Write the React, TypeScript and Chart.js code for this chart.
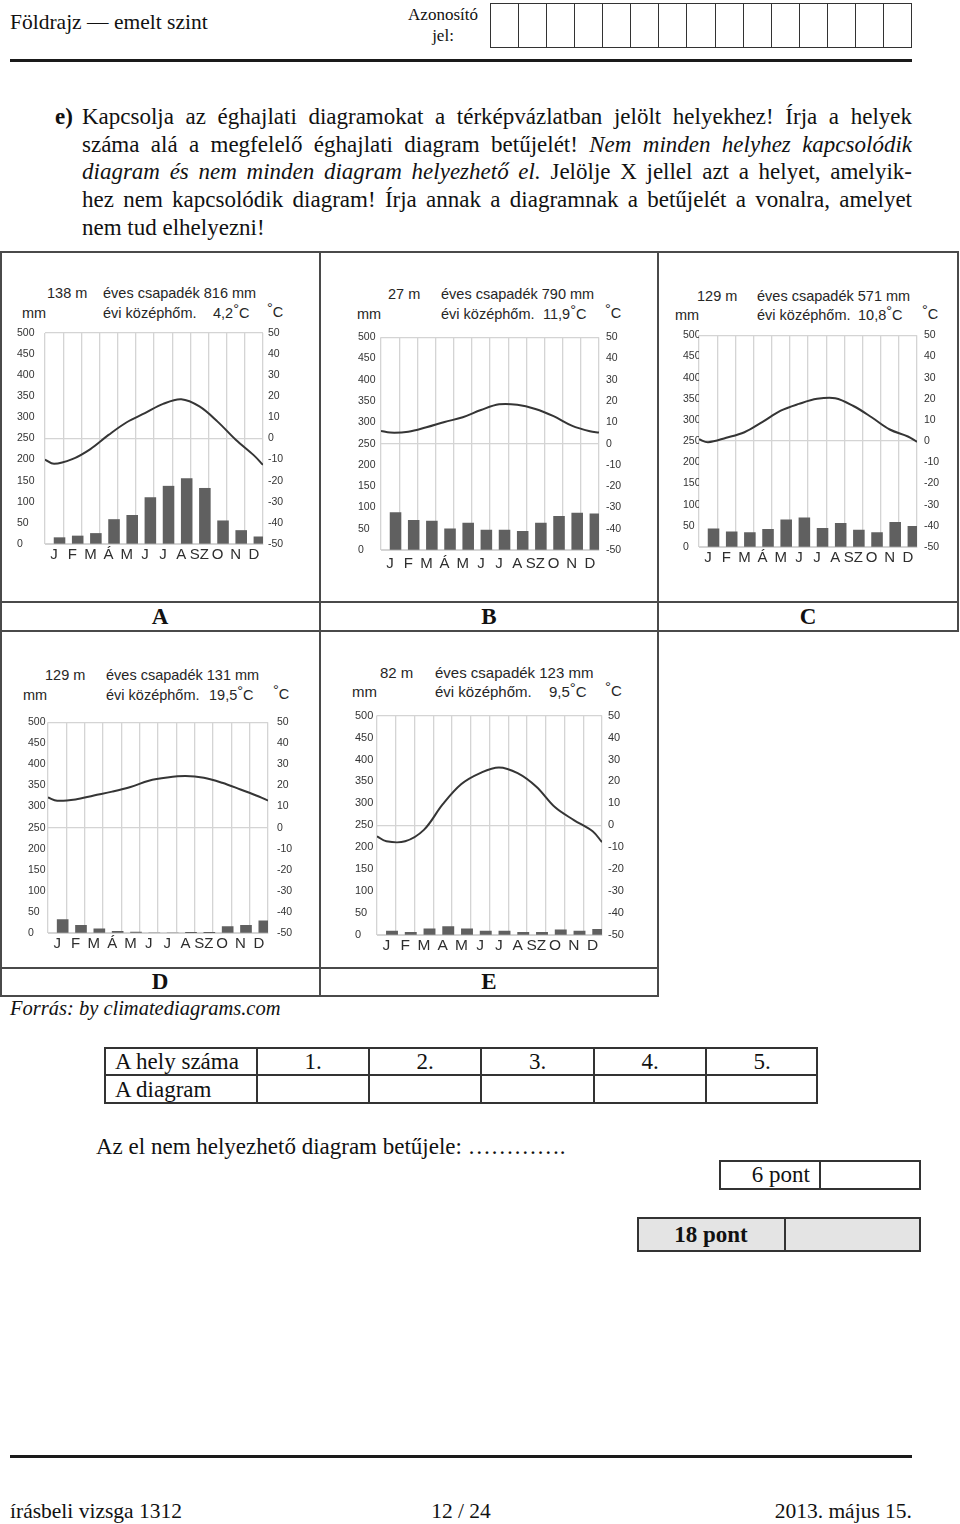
import React, { useEffect, useRef } from "react";
import { Chart, registerables } from "chart.js";
Chart.register(...registerables);

// ---------- data ----------
const monthsHU = ["J", "F", "M", "Á", "M", "J", "J", "A", "SZ", "O", "N", "D"];
const monthsE = ["J", "F", "M", "A", "M", "J", "J", "A", "SZ", "O", "N", "D"];

const precipA = [15, 19, 25, 58, 68, 110, 137, 155, 132, 55, 32, 17];
const tempA = [-12, -9.8, -5, 1.7, 7.7, 12, 16.4, 18.6, 15.2, 8, -0.6, -8];
const tempEdgeA = [-10, -12.5];

const precipB = [88, 70, 68, 50, 63, 47, 47, 44, 63, 79, 87, 85];
const tempB = [5.2, 5.6, 7.7, 10.2, 12.4, 15.8, 18.5, 18.3, 16.3, 12.9, 8.5, 5.8];
const tempEdgeB = [6, 5.2];

const precipC = [43, 36, 34, 42, 64, 69, 44, 56, 40, 34, 58, 49];
const tempC = [-0.5, 1.6, 4.2, 9.1, 14.4, 17.6, 20, 20.3, 16.6, 11.3, 5.5, 2.2];
const tempEdgeC = [0.9, -0.3];

const precipD = [32, 18, 10, 4, 2, 0, 0, 1, 1, 15, 18, 29];
const tempD = [12.8, 13.4, 15.3, 17.1, 19.3, 22.3, 23.8, 24.5, 23.7, 21.3, 18.1, 14.8];
const tempEdgeD = [14.3, 12.8];

const precipE = [9, 6, 14, 19, 14, 9, 9, 6, 6, 12, 9, 13];
const tempE = [-7.3, -7.3, -2.1, 9.5, 18.8, 23.8, 26.4, 23.8, 17.6, 8.2, 2.4, -2.7];
const tempEdgeE = [-5, -7.7];

const answerCols = ["1.", "2.", "3.", "4.", "5."];

// ---------- helpers ----------
const SERIF = "'Liberation Serif', 'Times New Roman', serif";
const SANS = "'Liberation Sans', Arial, sans-serif";

type Geo = {
  labelX: number; plotL: number; plotR: number; plotT: number; plotB: number;
  cellR: number; rpad: number; xpad: number; tick: number; month: number;
};

function ClimateChart(props: {
  g: Geo; labels: string[]; precip: number[]; temp: number[]; edges: number[];
}) {
  const { g, labels, precip, temp, edges } = props;
  const ref = useRef<HTMLCanvasElement>(null);
  const top = g.plotT - 12;
  const xh = 32;
  const cw = g.cellR - g.labelX;
  const ch = g.plotB + xh - top;
  useEffect(() => {
    const lineData = [
      { x: 0, y: edges[0] },
      ...temp.map((t, i) => ({ x: i + 0.5, y: t })),
      { x: 12, y: edges[1] },
    ];
    const grid = "#d4d4d4";
    const barW = ((g.plotR - g.plotL) / 12) * 0.6;
    const chart = new Chart(ref.current as HTMLCanvasElement, {
      type: "bar",
      data: {
        labels,
        datasets: [
          {
            type: "line",
            data: lineData as any,
            borderColor: "#353535",
            borderWidth: 2,
            pointRadius: 0,
            tension: 0.35,
            xAxisID: "xl",
            yAxisID: "yt",
            order: 1,
          } as any,
          {
            type: "bar",
            data: precip,
            backgroundColor: "#606060",
            barThickness: barW,
            xAxisID: "x",
            yAxisID: "y",
            order: 2,
          } as any,
        ],
      },
      options: {
        animation: false,
        responsive: false,
        devicePixelRatio: 1,
        layout: { padding: { top: 12, left: 0, right: 0, bottom: 0 } },
        plugins: { legend: { display: false }, tooltip: { enabled: false } },
        scales: {
          x: {
            type: "category",
            offset: true,
            grid: { offset: true, color: grid, drawTicks: false, lineWidth: 1.3 },
            border: { display: true, color: grid },
            ticks: {
              color: "#2e2e2e",
              font: { family: SANS, size: g.month },
              padding: g.xpad,
              maxRotation: 0,
              autoSkip: false,
            },
            afterFit: (s: any) => { s.height = xh; },
          },
          xl: {
            type: "linear",
            min: 0,
            max: 12,
            offset: false,
            display: false,
            grid: { display: false, offset: false },
          },
          y: {
            position: "left",
            min: 0,
            max: 500,
            ticks: {
              stepSize: 50,
              color: "#333",
              font: { family: SANS, size: g.tick },
              crossAlign: "far",
              padding: 4,
            },
            grid: {
              drawTicks: false,
              lineWidth: 1.3,
              color: (c: any) =>
                c.tick && [0, 250, 500].includes(c.tick.value) ? grid : "rgba(0,0,0,0)",
            },
            border: { display: false },
            afterFit: (s: any) => { s.width = g.plotL - g.labelX; },
          },
          yt: {
            position: "right",
            min: -50,
            max: 50,
            ticks: {
              stepSize: 10,
              color: "#333",
              font: { family: SANS, size: g.tick },
              padding: g.rpad,
            },
            grid: { display: false, drawTicks: false },
            border: { display: false },
            afterFit: (s: any) => { s.width = g.cellR - g.plotR; },
          },
        },
      } as any,
    });
    return () => chart.destroy();
  }, []);
  return (
    <canvas
      ref={ref}
      width={cw}
      height={ch}
      style={{ position: "absolute", left: g.labelX, top, width: cw, height: ch }}
    />
  );
}

function T(props: {
  x: number; y: number; size: number; children: any; style?: any; align?: "left" | "center" | "right";
}) {
  const { x, y, size, children, style, align } = props;
  const tx = align === "center" ? "-50%" : align === "right" ? "-100%" : "0";
  return (
    <div
      style={{
        position: "absolute",
        left: x,
        top: y,
        transform: `translate(${tx}, -50%)`,
        fontSize: size,
        lineHeight: 1.15,
        whiteSpace: "nowrap",
        ...style,
      }}
    >
      {children}
    </div>
  );
}

const Deg = () => (
  <span style={{ position: "relative", top: -4 }}>°</span>
);

function ChartHeader(props: {
  elev: string; ex: number; y1: number; y2: number; px: number; precip: string;
  mmx: number; tx: number; temp: string; cx: number; size: number;
}) {
  const p = props;
  const st = { fontFamily: SANS, color: "#262626" };
  return (
    <>
      <T x={p.ex} y={p.y1} size={p.size} style={st}>{p.elev}</T>
      <T x={p.px} y={p.y1} size={p.size} style={st}>{p.precip}</T>
      <T x={p.mmx} y={p.y2} size={p.size} style={st}>mm</T>
      <T x={p.px} y={p.y2} size={p.size} style={st}>évi középhőm.</T>
      <T x={p.tx} y={p.y2} size={p.size} style={st}>{p.temp}<Deg />C</T>
      <T x={p.cx} y={p.y2 - 1} size={p.size} style={st}><Deg />C</T>
    </>
  );
}

function Line(props: { x: number; y: number; w: number; h: number; c?: string }) {
  return (
    <div
      style={{
        position: "absolute",
        left: props.x,
        top: props.y,
        width: props.w,
        height: props.h,
        background: props.c || "#4a4a4a",
      }}
    />
  );
}

// ---------- geometry ----------
const geoA: Geo = { labelX: 17, plotL: 45, plotR: 263, plotT: 333, plotB: 544, cellR: 318, rpad: 5, xpad: 2, tick: 10.5, month: 15 };
const geoB: Geo = { labelX: 358, plotL: 381, plotR: 599, plotT: 336, plotB: 550, cellR: 656, rpad: 7, xpad: 5, tick: 10.5, month: 15 };
const geoC: Geo = { labelX: 683, plotL: 699, plotR: 917, plotT: 334, plotB: 547, cellR: 956, rpad: 7, xpad: 2, tick: 10.5, month: 15 };
const geoD: Geo = { labelX: 28, plotL: 48, plotR: 268, plotT: 719, plotB: 933, cellR: 318, rpad: 9, xpad: 2, tick: 10.5, month: 15 };
const geoE: Geo = { labelX: 355, plotL: 377, plotR: 602, plotT: 715, plotB: 935, cellR: 656, rpad: 6, xpad: 1, tick: 11, month: 15.5 };

export default function App() {
  const textLine = (top: number, content: any, justify = true) => (
    <div
      style={{
        position: "absolute",
        left: 82,
        width: 830,
        top: top - 14,
        height: 28,
        lineHeight: "28px",
        fontSize: 23,
        fontFamily: SERIF,
        textAlign: justify ? "justify" : "left",
        textAlignLast: justify ? "justify" : "left",
        whiteSpace: "nowrap",
      } as any}
    >
      {content}
    </div>
  );

  const boxCells = Array.from({ length: 15 });
  const colX = [104, 257, 369, 481, 594, 706, 818];

  return (
    <div
      style={{
        position: "absolute",
        left: 0,
        top: 0,
        width: 960,
        height: 1524,
        background: "#fff",
        overflow: "hidden",
        fontFamily: SERIF,
        color: "#111",
      }}
    >
      {/* header */}
      <T x={10} y={22} size={21.5}>Földrajz — emelt szint</T>
      <T x={443} y={15} size={17} align="center">Azonosító</T>
      <T x={443} y={36} size={17} align="center">jel:</T>
      <Line x={490} y={3} w={422} h={1} c="#333" />
      <Line x={490} y={47} w={422} h={1} c="#333" />
      {Array.from({ length: 16 }).map((_, i) => (
        <Line key={i} x={Math.round(490 + (i * 421) / 15)} y={3} w={1} h={45} c="#333" />
      ))}
      <Line x={10} y={59} w={902} h={3} c="#1a1a1a" />

      {/* instructions */}
      <T x={55} y={117} size={23} style={{ fontWeight: "bold" }}>e)</T>
      {textLine(117, "Kapcsolja az éghajlati diagramokat a térképvázlatban jelölt helyekhez! Írja a helyek")}
      {textLine(145, <>száma alá a megfelelő éghajlati diagram betűjelét! <i>Nem minden helyhez kapcsolódik</i></>)}
      {textLine(172, <><i>diagram és nem minden diagram helyezhető el.</i> Jelölje X jellel azt a helyet, amelyik-</>)}
      {textLine(200, "hez nem kapcsolódik diagram! Írja annak a diagramnak a betűjelét a vonalra, amelyet")}
      {textLine(228, "nem tud elhelyezni!", false)}

      {/* frame table */}
      <Line x={0} y={251} w={959} h={2} />
      <Line x={0} y={601} w={959} h={2} />
      <Line x={0} y={630} w={959} h={2} />
      <Line x={0} y={967} w={659} h={2} />
      <Line x={0} y={995} w={659} h={2} />
      <Line x={0} y={251} w={2} h={746} />
      <Line x={319} y={251} w={2} h={746} />
      <Line x={657} y={251} w={2} h={746} />
      <Line x={957} y={251} w={2} h={381} />

      <T x={160} y={617} size={23} align="center" style={{ fontWeight: "bold" }}>A</T>
      <T x={489} y={617} size={23} align="center" style={{ fontWeight: "bold" }}>B</T>
      <T x={808} y={617} size={23} align="center" style={{ fontWeight: "bold" }}>C</T>
      <T x={160} y={982} size={23} align="center" style={{ fontWeight: "bold" }}>D</T>
      <T x={489} y={982} size={23} align="center" style={{ fontWeight: "bold" }}>E</T>

      {/* charts */}
      <ChartHeader elev="138 m" ex={47} y1={293} y2={313} px={103} precip="éves csapadék 816 mm" mmx={22} tx={213} temp="4,2" cx={267} size={14.5} />
      <ClimateChart g={geoA} labels={monthsHU} precip={precipA} temp={tempA} edges={tempEdgeA} />

      <ChartHeader elev="27 m" ex={388} y1={294} y2={314} px={441} precip="éves csapadék 790 mm" mmx={357} tx={543} temp="11,9" cx={605} size={14.5} />
      <ClimateChart g={geoB} labels={monthsHU} precip={precipB} temp={tempB} edges={tempEdgeB} />

      <ChartHeader elev="129 m" ex={697} y1={296} y2={315} px={757} precip="éves csapadék 571 mm" mmx={675} tx={858} temp="10,8" cx={922} size={14.5} />
      <ClimateChart g={geoC} labels={monthsHU} precip={precipC} temp={tempC} edges={tempEdgeC} />

      <ChartHeader elev="129 m" ex={45} y1={675} y2={695} px={106} precip="éves csapadék 131 mm" mmx={23} tx={209} temp="19,5" cx={273} size={14.5} />
      <ClimateChart g={geoD} labels={monthsHU} precip={precipD} temp={tempD} edges={tempEdgeD} />

      <ChartHeader elev="82 m" ex={380} y1={673} y2={692} px={435} precip="éves csapadék 123 mm" mmx={352} tx={549} temp="9,5" cx={605} size={15} />
      <ClimateChart g={geoE} labels={monthsE} precip={precipE} temp={tempE} edges={tempEdgeE} />

      <T x={10} y={1009} size={20.5} style={{ fontStyle: "italic" }}>Forrás: by climatediagrams.com</T>

      {/* answer table */}
      <div style={{ position: "absolute", left: 104, top: 1047, width: 714, height: 57, border: "2px solid #333", boxSizing: "border-box" }} />
      <Line x={104} y={1074} w={714} h={2} c="#333" />
      {colX.slice(1, 6).map((x, i) => (
        <Line key={i} x={x - 1} y={1047} w={2} h={57} c="#333" />
      ))}
      <T x={115} y={1062} size={23}>A hely száma</T>
      <T x={115} y={1090} size={23}>A diagram</T>
      {answerCols.map((c, i) => (
        <T key={c} x={(colX[i + 1] + colX[i + 2]) / 2} y={1062} size={23} align="center">{c}</T>
      ))}

      <T x={96} y={1147} size={23}>Az el nem helyezhető diagram betűjele: ………….</T>

      <div style={{ position: "absolute", left: 719, top: 1160, width: 202, height: 30, border: "2px solid #333", boxSizing: "border-box" }} />
      <Line x={819} y={1160} w={2} h={30} c="#333" />
      <T x={810} y={1175} size={23} align="right">6 pont</T>

      <div style={{ position: "absolute", left: 637, top: 1217, width: 284, height: 35, border: "2px solid #333", boxSizing: "border-box", background: "#e4e4e4" }} />
      <Line x={784} y={1217} w={2} h={35} c="#333" />
      <T x={711} y={1235} size={23} align="center" style={{ fontWeight: "bold" }}>18 pont</T>

      {/* footer */}
      <Line x={10} y={1455} w={902} h={3} c="#1a1a1a" />
      <T x={10} y={1511} size={21.5}>írásbeli vizsga 1312</T>
      <T x={461} y={1511} size={21.5} align="center">12 / 24</T>
      <T x={912} y={1511} size={21.5} align="right">2013. május 15.</T>
    </div>
  );
}
